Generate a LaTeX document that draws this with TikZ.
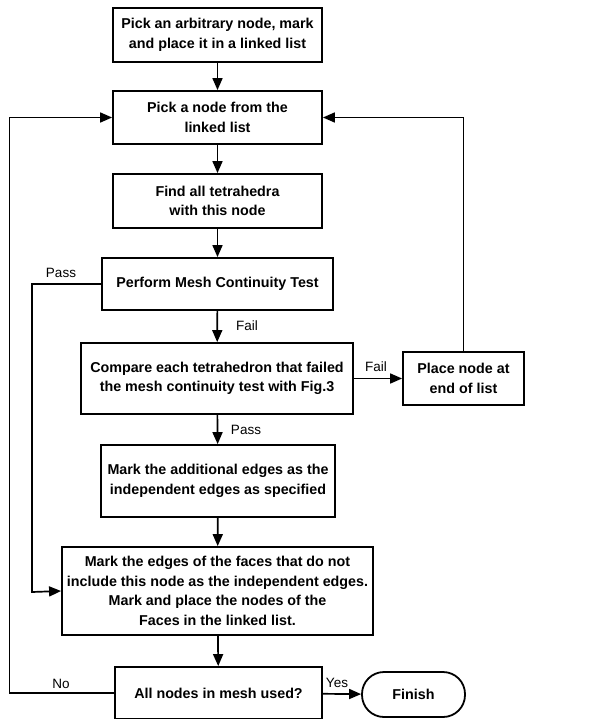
\documentclass[tikz,border=0pt]{standalone}
\usepackage{fontspec}
\setmainfont{Liberation Sans}
\usetikzlibrary{arrows.meta}
\begin{document}
\begin{tikzpicture}[x=1pt,y=-1pt,
  box/.style={draw,line width=1.8pt,align=center,inner sep=0pt,
    font=\bfseries\fontsize{14.3}{19.5}\selectfont},
  arr/.style={line width=1.7pt,-{Triangle[length=12pt,width=10pt]}},
  lbl/.style={font=\fontsize{13.5}{15}\selectfont,inner sep=0pt}]
\useasboundingbox (0,0) rectangle (604,719);
\node[box,minimum width=209pt,minimum height=54pt] (b1) at (217.5,35) {Pick an arbitrary node, mark\\and place it in a linked list};
\node[box,minimum width=209pt,minimum height=53pt] (b2) at (217.5,117.5) {Pick a node from the\\linked list};
\node[box,minimum width=209pt,minimum height=54pt] (b3) at (217.5,201) {Find all tetrahedra\\with this node};
\node[box,minimum width=231pt,minimum height=52pt] (b4) at (217.5,284) {Perform Mesh Continuity Test};
\node[box,minimum width=272pt,minimum height=71pt] (b5) at (217,378.5) {Compare each tetrahedron that failed\\the mesh continuity test with Fig.3};
\node[box,minimum width=121pt,minimum height=53pt] (b6) at (463.5,378.5) {Place node at\\end of list};
\node[box,minimum width=234pt,minimum height=72pt] (b7) at (218,481) {Mark the additional edges as the\\independent edges as specified};
\node[box,minimum width=311pt,minimum height=88pt] (b8) at (217.5,591) {Mark the edges of the faces that do not\\include this node as the independent edges.\\Mark and place the nodes of the\\Faces in the linked list.};
\node[box,minimum width=207pt,minimum height=52pt] (b9) at (218.5,693) {All nodes in mesh used?};
\node[box,minimum width=103pt,minimum height=45pt,rounded corners=22pt] (fin) at (413.5,694.5) {Finish};
\coordinate (pl) at (32,284);
\coordinate (pl2) at (32,592);
\coordinate (nl) at (9.5,693);
\coordinate (nl2) at (9.5,117.5);
\draw[arr] (b1) -- (b2);
\draw[arr] (b2) -- (b3);
\draw[arr] (b3) -- (b4);
\draw[arr] (b4) -- (b5);
\draw[arr] (b5) -- (b6);
\draw[arr] (b6.north) |- (b2.east);
\draw[arr] (b5) -- (b7);
\draw[arr] (b7) -- (b8);
\draw[arr] (b8) -- (b9);
\draw[arr] (b9) -- (fin);
\draw[arr] (b4.west) -- (pl) -- (pl2) -- (b8.west);
\draw[arr] (b9.west) -- (nl) -- (nl2) -- (b2.west);
\node[lbl] (l1) at (247,326) {Fail};
\node[lbl] (l2) at (376,367) {Fail};
\node[lbl] (l3) at (246,430) {Pass};
\node[lbl] (l4) at (61,273) {Pass};
\node[lbl] (l5) at (61,684) {No};
\node[lbl] (l6) at (337,683) {Yes};
\end{tikzpicture}
\end{document}
